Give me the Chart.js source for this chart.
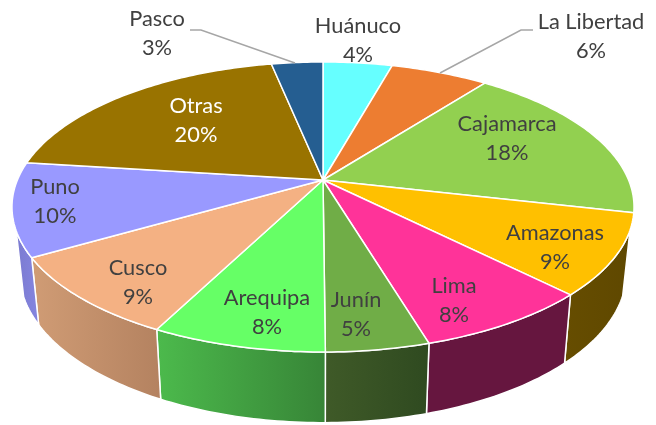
<!DOCTYPE html>
<html>
<head>
<meta charset="utf-8">
<style>
  html, body { margin: 0; padding: 0; background: #fff; }
  canvas { display: block; }
</style>
<script src="https://cdn.jsdelivr.net/npm/chart.js@4"></script>
</head>
<body>
<canvas id="chart" width="656" height="425"></canvas>
<script>
const regiones = ['Huánuco', 'La Libertad', 'Cajamarca', 'Amazonas', 'Lima', 'Junín', 'Arequipa', 'Cusco', 'Puno', 'Otras', 'Pasco'];
// la etiqueta muestra el valor redondeado
const porcentajes = [4.3, 6.1, 18.2, 9.0, 7.8, 4.5, 7.6, 9.1, 10.4, 19.8, 3.2];
const colores = ['#66FFFF', '#ED7D31', '#92D050', '#FFC000', '#FF3399', '#70AD47', '#66FF66', '#F4B183', '#9999FF', '#997300', '#255E91'];
// pared lateral: color izquierdo, color derecho
const paredIzq = ['#3d9999', '#8e4b1d', '#587d30', '#664d00', '#66163f', '#3f5a28', '#4cba4c', '#d09c75', '#7b7bd0', '#5c4500', '#163858'];
const paredDer = ['#3d9999', '#8e4b1d', '#587d30', '#5f4800', '#66163f', '#2f4a20', '#378537', '#b48260', '#8585e0', '#5c4500', '#163858'];
const colorTexto = ['#404040', '#404040', '#404040', '#404040', '#404040', '#404040', '#404040', '#404040', '#404040', '#ffffff', '#404040'];
// centro de cada etiqueta (no son marcas de datos)
const etiquetaX = [358, 591, 507, 555, 454, 356, 267, 138, 55, 196, 157];
const etiquetaY = [26, 22, 124, 233, 286, 300, 298, 268, 187, 106, 19];
const guias = [
  [[533, 30], [521, 30], [440, 73]],
  [[190, 30], [201, 30], [295, 63]]
];

// perspectiva de la tapa
const K = 0.186, ESC_X = 305.6, ESC_Y = 140;
// base desplazada respecto a la tapa
const BASE_X = 0.976, BASE_Y = 1.04, BASE_DY = 56.6;
// la pared solo se ve por delante
const SIN_PARED = 0.33;

function tapa(arc, a) {
  const w = 1 - K * Math.sin(a);
  return [arc.x + ESC_X * Math.cos(a) / w, arc.y + ESC_Y * Math.sin(a) / w];
}
function base(arc, a) {
  const p = tapa(arc, a);
  return [arc.x + (p[0] - arc.x) * BASE_X, p[1] * BASE_Y + BASE_DY];
}
function muestras(arc) {
  const n = Math.max(4, Math.ceil((arc.endAngle - arc.startAngle) * 60));
  const out = [];
  for (let i = 0; i <= n; i++) out.push(arc.startAngle + (arc.endAngle - arc.startAngle) * i / n);
  return out;
}

const pie3d = {
  id: 'pie3d',
  beforeDatasetDraw(chart) {
    const ctx = chart.ctx;
    const arcs = chart.getDatasetMeta(0).data;
    ctx.save();
    ctx.lineJoin = 'round';

    // paredes
    arcs.forEach((arc, i) => {
      const as = muestras(arc).filter(a => Math.sin(a) > SIN_PARED);
      if (as.length < 2) return;
      const arriba = as.map(a => tapa(arc, a));
      const abajo = as.map(a => base(arc, a)).reverse();
      const xs = arriba.concat(abajo).map(p => p[0]);
      const g = ctx.createLinearGradient(Math.min(...xs), 0, Math.max(...xs), 0);
      g.addColorStop(0, paredIzq[i]);
      g.addColorStop(1, paredDer[i]);
      ctx.beginPath();
      arriba.concat(abajo).forEach((p, j) => j ? ctx.lineTo(p[0], p[1]) : ctx.moveTo(p[0], p[1]));
      ctx.closePath();
      ctx.fillStyle = g;
      ctx.fill();
      ctx.strokeStyle = '#fff';
      ctx.lineWidth = 1.5;
      ctx.stroke();
    });

    // tapa
    arcs.forEach((arc, i) => {
      ctx.beginPath();
      ctx.moveTo(arc.x, arc.y);
      muestras(arc).forEach(a => {
        const p = tapa(arc, a);
        ctx.lineTo(p[0], p[1]);
      });
      ctx.closePath();
      ctx.fillStyle = colores[i];
      ctx.fill();
      ctx.strokeStyle = '#fff';
      ctx.lineWidth = 1.5;
      ctx.stroke();
    });

    ctx.restore();
    return false;
  },
  afterDatasetsDraw(chart) {
    const ctx = chart.ctx;
    ctx.save();
    ctx.strokeStyle = '#A6A6A6';
    ctx.lineWidth = 1.5;
    guias.forEach(g => {
      ctx.beginPath();
      g.forEach((p, j) => j ? ctx.lineTo(p[0], p[1]) : ctx.moveTo(p[0], p[1]));
      ctx.stroke();
    });
    ctx.font = '21.8px Lato';
    ctx.textAlign = 'center';
    ctx.textBaseline = 'middle';
    chart.data.labels.forEach((nombre, i) => {
      ctx.fillStyle = colorTexto[i];
      ctx.fillText(nombre, etiquetaX[i], etiquetaY[i]);
      ctx.fillText(Math.round(chart.data.datasets[0].data[i]) + '%', etiquetaX[i], etiquetaY[i] + 29);
    });
    ctx.restore();
  }
};

new Chart(document.getElementById('chart'), {
  type: 'pie',
  data: {
    labels: regiones,
    datasets: [{ data: porcentajes, backgroundColor: colores, borderColor: '#fff', borderWidth: 1.5 }]
  },
  options: {
    responsive: false,
    animation: false,
    layout: { padding: { top: 8, bottom: 73, left: 0, right: 10 } },
    plugins: { legend: { display: false }, tooltip: { enabled: false } }
  },
  plugins: [pie3d]
});
</script>
</body>
</html>
